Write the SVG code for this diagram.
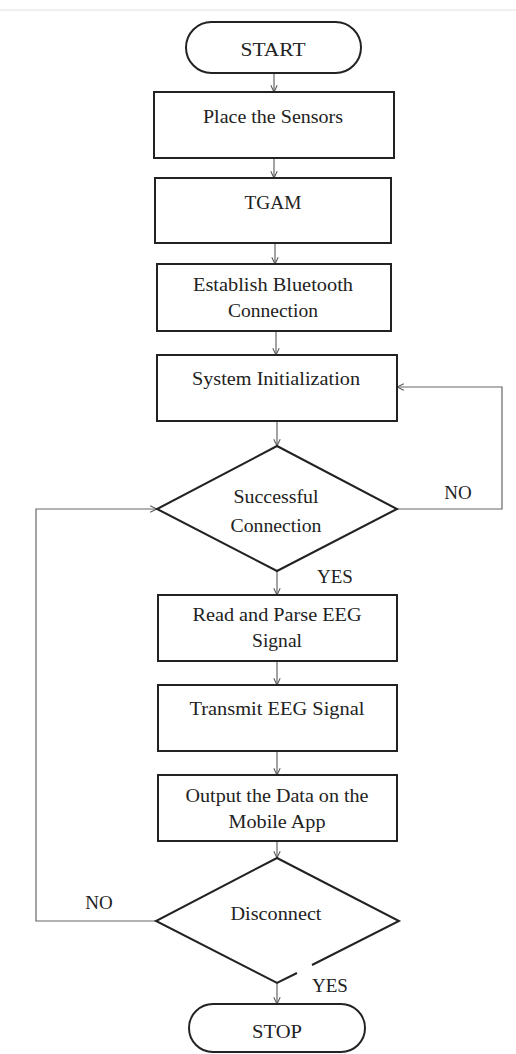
<svg xmlns="http://www.w3.org/2000/svg" width="516" height="1054" viewBox="0 0 516 1054">
<style>
.box{fill:#fff;stroke:#222;stroke-width:2}
.ln{fill:none;stroke:#666;stroke-width:1.2}
.t{font-family:"Liberation Serif","Times New Roman",serif;font-size:19px;fill:#222;text-anchor:middle}
</style>
<defs>
<marker id="ah" viewBox="0 0 10 10" refX="9.5" refY="5" markerWidth="8" markerHeight="8" markerUnits="userSpaceOnUse" orient="auto">
<path d="M1,1 L9.5,5 L1,9" fill="none" stroke="#555" stroke-width="1.3"/>
</marker>
</defs>
<rect width="516" height="1054" fill="#fff"/>
<line x1="0" y1="10" x2="516" y2="10" stroke="#f0f0f0" stroke-width="2"/>
<g id="connectors">
<line class="ln" x1="274" y1="73" x2="274" y2="92" marker-end="url(#ah)"/>
<line class="ln" x1="274" y1="158" x2="274" y2="178" marker-end="url(#ah)"/>
<line class="ln" x1="275" y1="243" x2="275" y2="264" marker-end="url(#ah)"/>
<line class="ln" x1="276" y1="331" x2="276" y2="355" marker-end="url(#ah)"/>
<line class="ln" x1="277" y1="421" x2="277" y2="446" marker-end="url(#ah)"/>
<line class="ln" x1="277" y1="571" x2="277" y2="595" marker-end="url(#ah)"/>
<line class="ln" x1="277" y1="661" x2="277" y2="685" marker-end="url(#ah)"/>
<line class="ln" x1="277" y1="751" x2="277" y2="775" marker-end="url(#ah)"/>
<line class="ln" x1="277" y1="841" x2="277" y2="858" marker-end="url(#ah)"/>
<line class="ln" x1="277" y1="983" x2="277" y2="1004" marker-end="url(#ah)"/>
<polyline class="ln" points="397,509 502,509 502,387 397,387" marker-end="url(#ah)"/>
<polyline class="ln" points="156,921 36,921 36,509 157,509" marker-end="url(#ah)"/>
<text class="t" x="458" y="499">NO</text>
<text class="t" x="335" y="583">YES</text>
<text class="t" x="99" y="909">NO</text>
<text class="t" x="330" y="992">YES</text>
</g>
<g id="start">
<rect class="box" x="186" y="22" width="175" height="51" rx="25.5"/>
<text class="t" x="273" y="56" textLength="65" lengthAdjust="spacingAndGlyphs">START</text>
</g>
<g id="place">
<rect class="box" x="154" y="92" width="240" height="66"/>
<text class="t" x="273" y="123" textLength="140" lengthAdjust="spacingAndGlyphs">Place the Sensors</text>
</g>
<g id="tgam">
<rect class="box" x="155" y="178" width="236" height="65"/>
<text class="t" x="273" y="209" textLength="57" lengthAdjust="spacingAndGlyphs">TGAM</text>
</g>
<g id="bluetooth">
<rect class="box" x="157" y="264" width="234" height="67"/>
<text class="t" x="273" y="291" textLength="160" lengthAdjust="spacingAndGlyphs">Establish Bluetooth</text>
<text class="t" x="273" y="317" textLength="90" lengthAdjust="spacingAndGlyphs">Connection</text>
</g>
<g id="init">
<rect class="box" x="157" y="355" width="240" height="66"/>
<text class="t" x="276" y="385" textLength="168" lengthAdjust="spacingAndGlyphs">System Initialization</text>
</g>
<g id="success">
<path class="box" d="M277,446 L397,509 L277,571 L157,509 Z"/>
<text class="t" x="276" y="503" textLength="85" lengthAdjust="spacingAndGlyphs">Successful</text>
<text class="t" x="276" y="532" textLength="91" lengthAdjust="spacingAndGlyphs">Connection</text>
</g>
<g id="read">
<rect class="box" x="158" y="595" width="239" height="66"/>
<text class="t" x="277" y="621" textLength="169" lengthAdjust="spacingAndGlyphs">Read and Parse EEG</text>
<text class="t" x="277" y="647" textLength="50" lengthAdjust="spacingAndGlyphs">Signal</text>
</g>
<g id="transmit">
<rect class="box" x="158" y="685" width="239" height="66"/>
<text class="t" x="277" y="715" textLength="175" lengthAdjust="spacingAndGlyphs">Transmit EEG Signal</text>
</g>
<g id="output">
<rect class="box" x="158" y="775" width="239" height="66"/>
<text class="t" x="277" y="802" textLength="183" lengthAdjust="spacingAndGlyphs">Output the Data on the</text>
<text class="t" x="277" y="828" textLength="97" lengthAdjust="spacingAndGlyphs">Mobile App</text>
</g>
<g id="disconnect">
<path class="box" d="M312,965 L399,921 L277,858 L156,921 L277,983 L297,973"/>
<text class="t" x="276" y="920" textLength="91" lengthAdjust="spacingAndGlyphs">Disconnect</text>
</g>
<g id="stop">
<rect class="box" x="189" y="1004" width="176" height="48" rx="24"/>
<text class="t" x="277" y="1038" textLength="50" lengthAdjust="spacingAndGlyphs">STOP</text>
</g>
</svg>
